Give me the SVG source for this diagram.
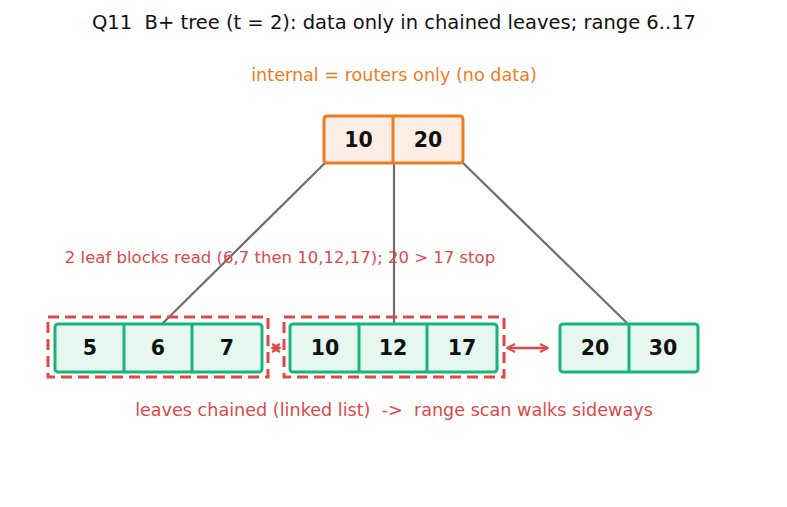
<svg xmlns="http://www.w3.org/2000/svg" width="787" height="507" viewBox="0 0 787 507">
<style>
text{font-family:"DejaVu Sans","Liberation Sans",sans-serif;white-space:pre}
.title{font-size:19.5px;fill:#111}
.note{font-size:16.5px;fill:#e04848}
.bnote{font-size:17.6px;fill:#e04848}
.onote{font-size:17.6px;fill:#f07a20}
.num{font-size:20.5px;font-weight:bold;fill:#111;text-anchor:middle}
.root{fill:#fdeee5;stroke:#f07a20;stroke-width:3}
.leaf{fill:#e6f7ef;stroke:#18b47a;stroke-width:3}
.edge{stroke:#6e6e6e;stroke-width:2.2;fill:none}
.grp{fill:none;stroke:#e04848;stroke-width:3;stroke-dasharray:11,6}
.link{stroke:#e04848;stroke-width:2.5;fill:none;marker-start:url(#ah);marker-end:url(#ah)}
</style>
<defs>
<marker id="ah" viewBox="0 0 10 10" refX="9" refY="5" markerWidth="4" markerHeight="4" orient="auto-start-reverse" markerUnits="strokeWidth">
<path d="M1,1 L9,5 L1,9" fill="none" stroke="#e04848" stroke-width="2"/>
</marker>
</defs>
<rect width="787" height="507" fill="#fff"/>
<text class="title" x="394" y="29" text-anchor="middle" xml:space="preserve">Q11  B+ tree (t = 2): data only in chained leaves; range 6..17</text>
<text class="onote" x="394" y="81" text-anchor="middle">internal = routers only (no data)</text>
<g id="connectors">
<line class="edge" x1="325" y1="163" x2="162" y2="324"/>
<line class="edge" x1="394" y1="163" x2="394" y2="324"/>
<line class="edge" x1="462" y1="162" x2="628" y2="324"/>
<line class="link" x1="272" y1="348" x2="280" y2="348"/>
<line class="link" x1="507" y1="348" x2="548" y2="348"/>
</g>
<g id="group1"><rect class="grp" x="48" y="317" width="220" height="60"/></g>
<g id="group2"><rect class="grp" x="284" y="317" width="220" height="60"/></g>
<g id="root">
<rect class="root" x="324" y="116" width="139" height="47" rx="3"/>
<line x1="393" y1="116" x2="393" y2="163" stroke="#f07a20" stroke-width="3"/>
<text class="num" x="358.5" y="147">10</text>
<text class="num" x="428" y="147">20</text>
</g>
<g id="leaf1">
<rect class="leaf" x="55" y="324" width="207" height="48" rx="3"/>
<line x1="124" y1="324" x2="124" y2="372" stroke="#18b47a" stroke-width="3"/>
<line x1="192" y1="324" x2="192" y2="372" stroke="#18b47a" stroke-width="3"/>
<text class="num" x="90" y="355">5</text>
<text class="num" x="158" y="355">6</text>
<text class="num" x="227" y="355">7</text>
</g>
<g id="leaf2">
<rect class="leaf" x="290" y="324" width="207" height="48" rx="3"/>
<line x1="359" y1="324" x2="359" y2="372" stroke="#18b47a" stroke-width="3"/>
<line x1="427" y1="324" x2="427" y2="372" stroke="#18b47a" stroke-width="3"/>
<text class="num" x="325" y="355">10</text>
<text class="num" x="393" y="355">12</text>
<text class="num" x="462" y="355">17</text>
</g>
<g id="leaf3">
<rect class="leaf" x="560" y="324" width="138" height="48" rx="3"/>
<line x1="629" y1="324" x2="629" y2="372" stroke="#18b47a" stroke-width="3"/>
<text class="num" x="595" y="355">20</text>
<text class="num" x="663" y="355">30</text>
</g>
<text class="note" x="280" y="263" text-anchor="middle">2 leaf blocks read (6,7 then 10,12,17); 20 &gt; 17 stop</text>
<text class="bnote" x="394" y="416" text-anchor="middle" xml:space="preserve">leaves chained (linked list)  -&gt;  range scan walks sideways</text>
</svg>
